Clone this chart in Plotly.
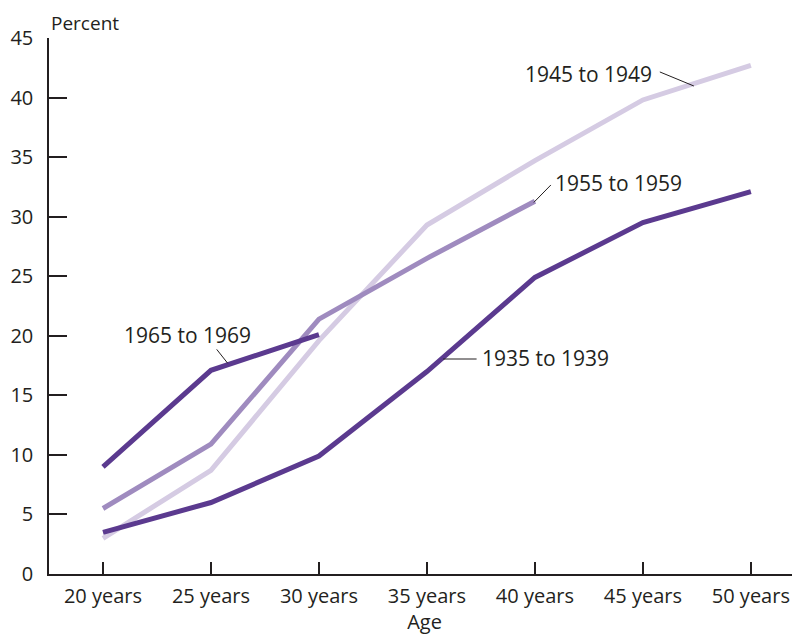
import plotly.graph_objects as go

ages = ["20 years", "25 years", "30 years", "35 years", "40 years", "45 years", "50 years"]
s1935 = [3.5, 6.0, 9.9, 17.0, 24.9, 29.5, 32.1]
s1945 = [3.0, 8.7, 19.6, 29.3, 34.7, 39.8, 42.7]
s1955 = [5.5, 10.9, 21.4, 26.5, 31.3]
s1965 = [9.0, 17.1, 20.1]
yticks = [0, 5, 10, 15, 20, 25, 30, 35, 40, 45]

DARK = "#5b3a8f"
MED = "#9f8bbf"
LIGHT = "#d5cbe3"
INK = "#231f20"
FONT = "Open Sans"

xi = list(range(len(ages)))

fig = go.Figure()
for name, vals, col in [
    ("1945 to 1949", s1945, LIGHT),
    ("1955 to 1959", s1955, MED),
    ("1935 to 1939", s1935, DARK),
    ("1965 to 1969", s1965, DARK),
]:
    fig.add_trace(go.Scatter(x=xi[:len(vals)], y=vals, mode="lines", name=name,
                             line=dict(color=col, width=5), showlegend=False,
                             hoverinfo="skip"))

# labels: (text, x, y, xanchor, leader line x0,y0,x1,y1)
labels = [
    ("1945 to 1949", 5.10, 41.95, "right", (5.157, 42.15, 5.472, 40.97)),
    ("1955 to 1959", 4.167, 32.85, "left", (4.148, 32.66, 3.99, 31.2)),
    ("1965 to 1969", 0.176, 20.05, "left", (1.053, 18.86, 1.155, 17.69)),
    ("1935 to 1939", 3.491, 18.1, "left", (3.151, 18.05, 3.460, 18.05)),
]
for text, x, y, xa, ln in labels:
    fig.add_annotation(x=x, y=y, text=text, showarrow=False, xanchor=xa, yanchor="middle",
                       font=dict(family=FONT, size=21, color=INK))
    fig.add_shape(type="line", xref="x", yref="y", x0=ln[0], y0=ln[1], x1=ln[2], y1=ln[3],
                  line=dict(color=INK, width=1))

fig.add_annotation(xref="paper", yref="paper", x=0, y=1, xanchor="left", yanchor="bottom",
                   yshift=0, text="Percent", showarrow=False,
                   font=dict(family=FONT, size=19, color=INK))

fig.update_layout(
    width=792, height=627,
    margin=dict(l=41, r=0, t=30, b=61),
    plot_bgcolor="white", paper_bgcolor="white",
    font=dict(family=FONT, size=20, color=INK),
    xaxis=dict(range=[-0.5, 6.455], tickvals=xi, ticktext=ages, showgrid=False,
               zeroline=False, showline=True, linecolor=INK, linewidth=1.5,
               ticks="inside", ticklen=12, tickcolor=INK, tickwidth=1.5,
               ticklabelstandoff=3,
               title=dict(text="Age", font=dict(family=FONT, size=20, color=INK), standoff=4)),
    yaxis=dict(range=[0, 45], tickvals=yticks, showgrid=False, zeroline=False,
               showline=True, linecolor=INK, linewidth=1.5,
               ticks="inside", ticklen=18, tickcolor=INK, tickwidth=1.5,
               ticklabelstandoff=10),
)

fig.write_html("out.html")
